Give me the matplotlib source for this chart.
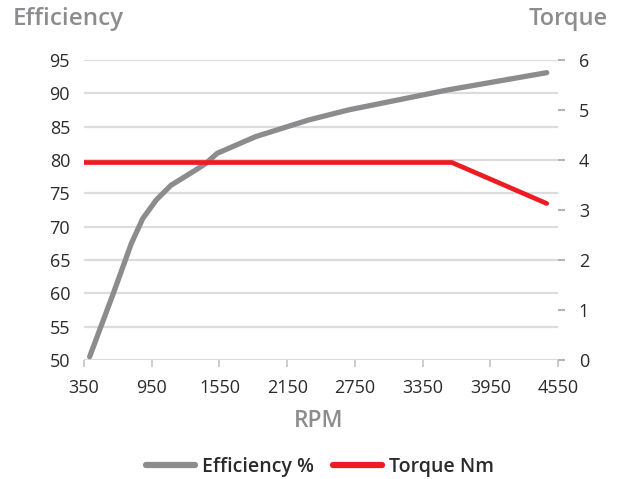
import matplotlib
matplotlib.use("Agg")
import matplotlib.pyplot as plt
from matplotlib.lines import Line2D

plt.rcParams['font.family'] = ['Open Sans', 'DejaVu Sans']

eff_rpm = [400, 610, 770, 870, 990, 1120, 1340, 1430, 1530, 1870, 2340, 2690, 3570, 4450]
eff_val = [50.5, 60, 67.5, 71.2, 74, 76.2, 78.5, 79.5, 81, 83.5, 86, 87.5, 90.5, 93.1]
tq_rpm = [350, 3610, 4450]
tq_val = [3.95, 3.95, 3.13]
x_ticks = [350, 950, 1550, 2150, 2750, 3350, 3950, 4550]
left_ticks = [50, 55, 60, 65, 70, 75, 80, 85, 90, 95]
right_ticks = [0, 1, 2, 3, 4, 5, 6]

GRAY = '#8c8c8e'
RED = '#ed1c24'
GRID = '#dcdcdc'
TXT = '#2b2b2b'
TITLE = '#8d8d8f'

fig = plt.figure(figsize=(6.25, 4.79), dpi=100)
ax = fig.add_axes([84/625, 1-360/479, (558-84)/625, 300/479])
ax.set_xlim(350, 4550)
ax.set_ylim(50, 95)
for v in left_ticks:
    ax.axhline(v, color=GRID, lw=1.6, zorder=0)
for s in ax.spines.values():
    s.set_visible(False)
ax.set_yticks(left_ticks)
ax.tick_params(axis='y', length=0, pad=10, labelsize=13, labelcolor=TXT)
ax.set_xticks(x_ticks)
ax.tick_params(axis='x', length=5, width=1.3, color='#c8c8c8', pad=9, labelsize=13, labelcolor=TXT)

ax2 = ax.twinx()
ax2.set_ylim(0, 6)
for s in ax2.spines.values():
    s.set_visible(False)
ax2.set_yticks(right_ticks)
ax2.tick_params(axis='y', length=5, width=1.5, color='#b5b5b5', pad=10, labelsize=13, labelcolor=TXT)

ax.plot(eff_rpm, eff_val, color=GRAY, lw=3.8, solid_capstyle='round', solid_joinstyle='round', zorder=3)
ax2.plot(tq_rpm, tq_val, color=RED, lw=3.4, solid_capstyle='round', solid_joinstyle='round', zorder=3)

fig.text(13/625, 1-19/479, 'Efficiency', fontsize=17.5, color=TITLE, fontweight='semibold', ha='left', va='center')
fig.text(608/625, 1-19/479, 'Torque', fontsize=17, color=TITLE, fontweight='semibold', ha='right', va='center')
fig.text(319/625, 1-421/479, 'RPM', fontsize=16.5, color=TITLE, fontweight='semibold', ha='center', va='center')

handles = [Line2D([], [], color=GRAY, lw=4.5, solid_capstyle='round'),
           Line2D([], [], color=RED, lw=4.5, solid_capstyle='round')]
fig.legend(handles, ['Efficiency %', 'Torque Nm'], loc='center', bbox_to_anchor=(320/625, 1-467/479),
           ncol=2, frameon=False, handlelength=2.5, handletextpad=0.35, columnspacing=1.0,
           prop={'size': 14, 'weight': 'semibold'}, labelcolor=TXT)

fig.savefig('out.png', dpi=100)
